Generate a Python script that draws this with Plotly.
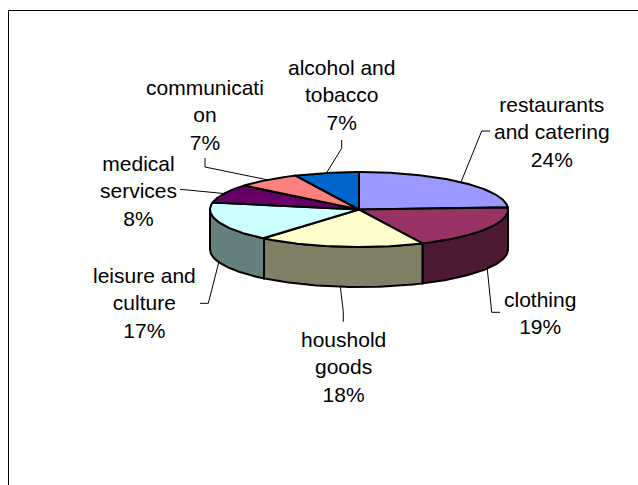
import numpy as np
import plotly.graph_objects as go

# Household spending breakdown (share of total, %)
categories = ["restaurants and catering", "clothing", "houshold goods",
              "leisure and culture", "medical services", "communication",
              "alcohol and tobacco"]
label_lines = ["restaurants<br>and catering", "clothing", "houshold<br>goods",
               "leisure and<br>culture", "medical<br>services", "communicati<br>on",
               "alcohol and<br>tobacco"]
shares = [24, 19, 18, 17, 8, 7, 7]

top_colors = ["#9999FF", "#993366", "#FFFFCC", "#CCFFFF", "#660066", "#FF8080", "#0066CC"]

# Pie geometry in pixel units (y grows downward)
W, H = 638, 485
CX, CY = 359, 209.5
RX, RY = 149, 37.5
DEPTH = 40

# Label placement (text block centre) and leader knee / end points
label_pos = [(551.5, 131.5), (540, 312.7), (343.3, 366.7), (144.3, 303.3),
             (138.3, 190.5), (205, 115), (341.7, 94.5)]
leader_knee = [(481.7, 131), (491.7, 312.3), (343.3, 311.7), (208.3, 303.3),
               (180, 189.3), (205, 167), (341.7, 148.3)]
leader_end = [(490, 131), (500, 312.3), (343.3, 321.7), (200, 303.3),
              (180, 189.3), (205, 158), (341.7, 140)]


def shade(hex_color, f=0.5):
    h = hex_color.lstrip("#")
    r, g, b = (int(h[i:i + 2], 16) for i in (0, 2, 4))
    return "rgb(%d,%d,%d)" % (round(r * f), round(g * f), round(b * f))


def ell(theta_deg, dy=0.0):
    t = np.radians(theta_deg)
    return CX + RX * np.sin(t), CY - RY * np.cos(t) + dy


total = float(sum(shares))
bounds = np.concatenate([[0.0], np.cumsum(shares) / total * 360.0])

fig = go.Figure()

# Side walls: the front half of the rim (90..270 degrees clockwise from 12 o'clock)
for i, c in enumerate(top_colors):
    a0, a1 = max(bounds[i], 90.0), min(bounds[i + 1], 270.0)
    if a1 <= a0:
        continue
    ts = np.linspace(a0, a1, 80)
    xt, yt = ell(ts)
    xb, yb = ell(ts[::-1], DEPTH)
    xs = np.concatenate([xt, xb, xt[:1]])
    ys = np.concatenate([yt, yb, yt[:1]])
    fig.add_trace(go.Scatter(x=xs, y=ys, mode="lines", fill="toself",
                             fillcolor=shade(c), line=dict(color="black", width=2),
                             hoverinfo="skip", showlegend=False))

# Top face wedges
for i, c in enumerate(top_colors):
    ts = np.linspace(bounds[i], bounds[i + 1], 120)
    xa, ya = ell(ts)
    xs = np.concatenate([[CX], xa, [CX]])
    ys = np.concatenate([[CY], ya, [CY]])
    fig.add_trace(go.Scatter(x=xs, y=ys, mode="lines", fill="toself",
                             fillcolor=c, line=dict(color="black", width=2),
                             hoverinfo="skip", showlegend=False))

# Leader lines from the slice mid-angle on the visible edge
for i in range(len(shares)):
    mid = (bounds[i] + bounds[i + 1]) / 2.0
    front = np.cos(np.radians(mid)) < 0
    ax, ay = ell(mid, DEPTH if front else 0.0)
    kx, ky = leader_knee[i]
    ex, ey = leader_end[i]
    fig.add_trace(go.Scatter(x=[ax, kx, ex], y=[ay, ky, ey], mode="lines",
                             line=dict(color="black", width=1),
                             hoverinfo="skip", showlegend=False))

# Data labels
for i, v in enumerate(shares):
    lx, ly = label_pos[i]
    fig.add_annotation(x=lx, y=ly, xref="x", yref="y",
                       text="%s<br>%d%%" % (label_lines[i], v),
                       showarrow=False, align="center",
                       xanchor="center", yanchor="middle",
                       font=dict(family="Liberation Sans, Arial", size=21, color="black"))

# Chart area frame
fig.add_shape(type="rect", xref="x", yref="y", x0=8.5, y0=10.5, x1=W + 20, y1=H + 20,
              line=dict(color="black", width=1), fillcolor="rgba(0,0,0,0)", layer="below")

fig.update_layout(
    width=W, height=H,
    margin=dict(l=0, r=0, t=0, b=0),
    paper_bgcolor="white", plot_bgcolor="white",
    xaxis=dict(range=[0, W], visible=False, fixedrange=True),
    yaxis=dict(range=[H, 0], visible=False, fixedrange=True),
)

fig.write_html("out.html", config={"displayModeBar": False})
